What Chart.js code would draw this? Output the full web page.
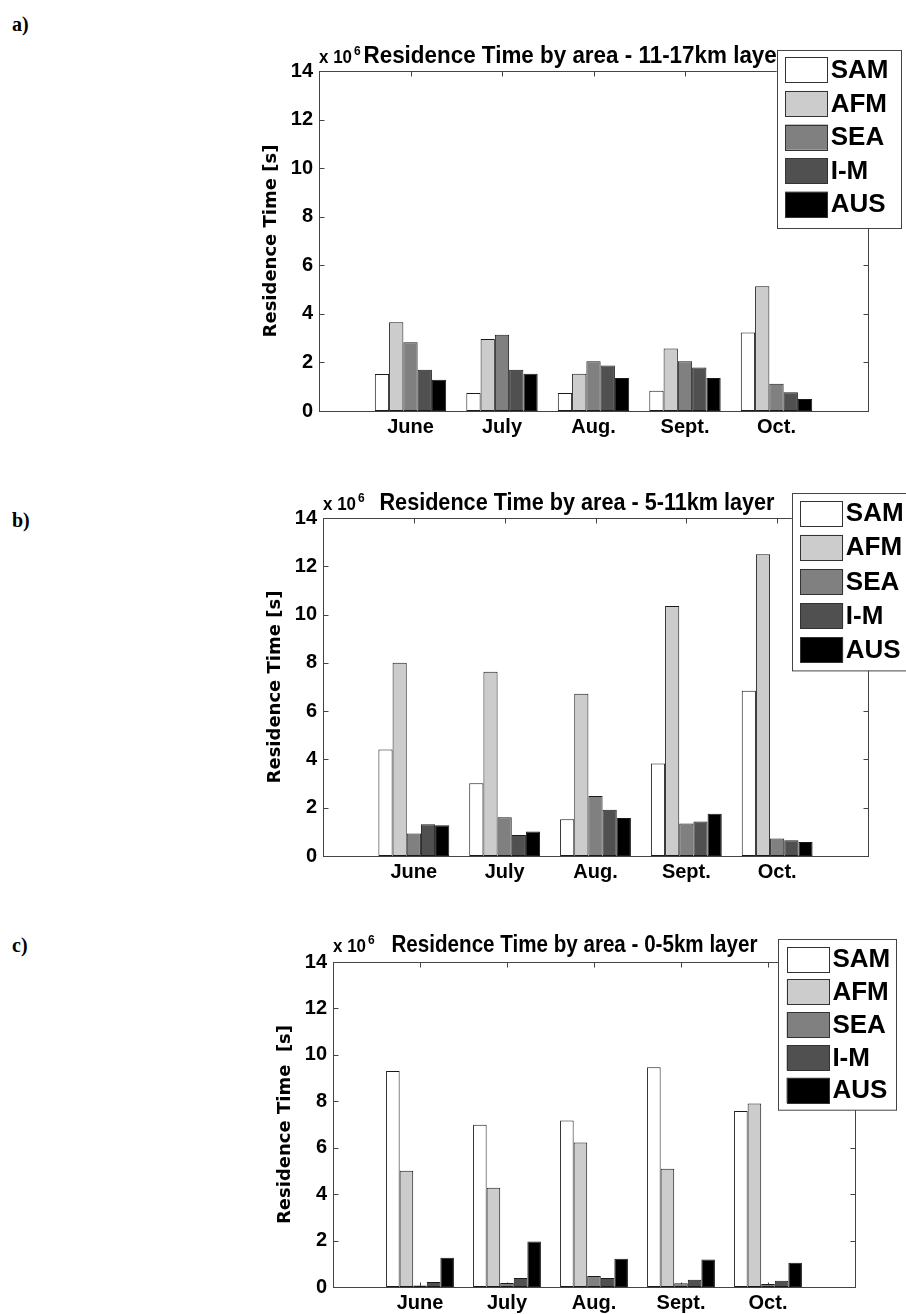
<!DOCTYPE html>
<html>
<head>
<meta charset="utf-8">
<script src="https://cdn.jsdelivr.net/npm/chart.js@4.4.1/dist/chart.umd.min.js"></script>
<style>
body { margin: 0; background: #fff; }
#page { position: relative; width: 906px; height: 1314px; overflow: hidden; background: #fff; }
canvas { position: absolute; left: 0; }
.tag { position: absolute; left: 12px; font: bold 20px "Liberation Serif", "Times New Roman", serif; line-height: 20px; }
</style>
</head>
<body>
<div id="page">
  <div class="tag" style="top:14px">a)</div>
  <div class="tag" style="top:510px">b)</div>
  <div class="tag" style="top:935px">c)</div>
  <canvas id="chartA" width="906" height="460" style="top:0px"></canvas>
  <canvas id="chartB" width="906" height="440" style="top:460px"></canvas>
  <canvas id="chartC" width="906" height="414" style="top:900px"></canvas>
</div>
<script>
// month categories and areas
const months = ['June', 'July', 'Aug.', 'Sept.', 'Oct.'];
const areas = ['SAM', 'AFM', 'SEA', 'I-M', 'AUS'];
const yTicks = [0, 2, 4, 6, 8, 10, 12, 14];

// 11-17 km layer (x 10^6 s)
const samHigh = [1.52, 0.74, 0.74, 0.83, 3.23];
const afmHigh = [3.65, 2.96, 1.53, 2.57, 5.14];
const seaHigh = [2.83, 3.14, 2.05, 2.05, 1.12];
const imHigh  = [1.70, 1.70, 1.87, 1.79, 0.77];
const ausHigh = [1.29, 1.53, 1.36, 1.36, 0.49];

// 5-11 km layer
const samMid = [4.41, 3.01, 1.52, 3.83, 6.84];
const afmMid = [8.00, 7.63, 6.72, 10.36, 12.50];
const seaMid = [0.93, 1.60, 2.49, 1.35, 0.73];
const imMid  = [1.31, 0.87, 1.92, 1.43, 0.65];
const ausMid = [1.27, 1.01, 1.57, 1.75, 0.58];

// 0-5 km layer
const samLow = [9.31, 6.99, 7.17, 9.47, 7.58];
const afmLow = [5.01, 4.28, 6.23, 5.09, 7.91];
const seaLow = [0.07, 0.17, 0.47, 0.16, 0.13];
const imLow  = [0.22, 0.39, 0.39, 0.31, 0.27];
const ausLow = [1.26, 1.96, 1.22, 1.18, 1.05];

const fills = ['#ffffff', '#cccccc', '#808080', '#505050', '#000000'];
const axisColor = '#444';
const sans = '"Liberation Sans", Arial, Helvetica, sans-serif';

// matlab style frame + inward ticks, title and legend
const framePlugin = {
    id: 'frame',
    beforeDatasetsDraw(chart) {
        const { ctx, chartArea: a, scales } = chart;
        ctx.save();
        ctx.strokeStyle = axisColor;
        ctx.lineWidth = 1;
        const l = Math.round(a.left) + 0.5, r = Math.round(a.right) + 0.5;
        const t = Math.round(a.top) + 0.5, b = Math.round(a.bottom) + 0.5;
        ctx.beginPath();
        yTicks.forEach(v => {
            const y = Math.round(scales.y.getPixelForValue(v)) + 0.5;
            ctx.moveTo(l, y); ctx.lineTo(l + 5, y);
            ctx.moveTo(r, y); ctx.lineTo(r - 5, y);
        });
        months.forEach((m, i) => {
            const x = Math.round(scales.x.getPixelForValue(i + 1)) + 0.5;
            ctx.moveTo(x, b); ctx.lineTo(x, b - 5);
            ctx.moveTo(x, t); ctx.lineTo(x, t + 5);
        });
        ctx.stroke();
        ctx.strokeRect(l, t, r - l, b - t);
        ctx.restore();
    },
    afterDatasetsDraw(chart, args, opts) {
        const { ctx } = chart;
        ctx.save();
        ctx.fillStyle = '#000';
        ctx.textBaseline = 'alphabetic';
        ctx.textAlign = 'left';
        ctx.font = 'bold 19px ' + sans;
        ctx.fillText('x 10', opts.x, opts.baseline, 33);
        ctx.font = 'bold 12px ' + sans;
        ctx.fillText('6', opts.x + 35, opts.baseline - 8);
        ctx.font = 'bold 23px ' + sans;
        ctx.fillText(opts.text, opts.x + opts.gap, opts.baseline, opts.width);
        ctx.restore();
    },
    afterDraw(chart, args, opts) {
        const { ctx } = chart;
        const lg = opts.legend;
        ctx.save();
        ctx.fillStyle = '#fff';
        ctx.fillRect(lg.x, lg.y, lg.w, lg.h);
        ctx.strokeStyle = axisColor;
        ctx.lineWidth = 1;
        ctx.strokeRect(Math.round(lg.x) + 0.5, Math.round(lg.y) + 0.5, lg.w, lg.h);
        ctx.font = 'bold 26px ' + sans;
        ctx.textBaseline = 'middle';
        chart.data.datasets.forEach((ds, i) => {
            const sy = lg.y + 7.3 + i * lg.pitch;
            ctx.fillStyle = ds.backgroundColor;
            ctx.fillRect(lg.x + 8.3, sy, 43, 25.3);
            ctx.strokeStyle = '#333';
            ctx.strokeRect(Math.round(lg.x + 8.3) + 0.5, Math.round(sy) + 0.5, 42, 25);
            ctx.fillStyle = '#000';
            ctx.fillText(ds.label, lg.x + 54, sy + 13.5, 60);
        });
        ctx.restore();
    }
};

function makePanel(id, canvasTop, canvasH, box, series, titleOpts, legend, yTitle) {
    const yW = 58, xH = 34;
    const datasets = areas.map((name, i) => ({
        label: name,
        data: [null, ...series[i], null],
        backgroundColor: fills[i],
        borderColor: '#1a1a1a',
        borderWidth: 1,
        borderSkipped: false,
        categoryPercentage: 0.78,
        barPercentage: 1.0
    }));
    const ctx = document.getElementById(id).getContext('2d');
    new Chart(ctx, {
        type: 'bar',
        data: { labels: ['', ...months, ''], datasets: datasets },
        options: {
            responsive: false,
            animation: false,
            devicePixelRatio: 1,
            layout: {
                padding: {
                    left: box.left - yW,
                    top: box.top - canvasTop,
                    right: 906 - box.right,
                    bottom: canvasTop + canvasH - box.bottom - xH
                }
            },
            plugins: {
                legend: { display: false },
                tooltip: { enabled: false },
                frame: {
                    x: box.left,
                    baseline: titleOpts.baseline - canvasTop,
                    gap: titleOpts.gap,
                    width: titleOpts.width,
                    text: titleOpts.text,
                    legend: { x: legend.x, y: legend.y - canvasTop, w: legend.w, h: legend.h, pitch: legend.pitch }
                }
            },
            scales: {
                x: {
                    type: 'category',
                    offset: false,
                    grid: { display: false, drawTicks: false },
                    border: { display: false },
                    ticks: {
                        color: '#000',
                        font: { family: sans, size: 20, weight: 'bold' },
                        padding: 4,
                        autoSkip: false,
                        maxRotation: 0
                    },
                    afterFit: s => { s.height = xH; }
                },
                y: {
                    min: 0,
                    max: 14,
                    grid: { display: false, drawTicks: false },
                    border: { display: false },
                    ticks: {
                        stepSize: 2,
                        autoSkip: false,
                        color: '#000',
                        font: { family: sans, size: 20, weight: 'bold' },
                        padding: 6
                    },
                    title: {
                        display: true,
                        text: yTitle,
                        color: '#000',
                        font: { family: '"DejaVu Sans", sans-serif', size: 18, weight: 'bold' },
                        padding: 0
                    },
                    afterFit: s => { s.width = yW; }
                }
            }
        },
        plugins: [framePlugin]
    });
}

makePanel('chartA', 0, 460,
    { left: 319, top: 71, right: 868, bottom: 411 },
    [samHigh, afmHigh, seaHigh, imHigh, ausHigh],
    { baseline: 63, gap: 44.5, width: 422, text: 'Residence Time by area - 11-17km layer' },
    { x: 776.7, y: 50, w: 124, h: 178, pitch: 33.6 },
    'Residence Time [s]');

makePanel('chartB', 460, 440,
    { left: 323, top: 518, right: 868, bottom: 856 },
    [samMid, afmMid, seaMid, imMid, ausMid],
    { baseline: 509.5, gap: 56.5, width: 395, text: 'Residence Time by area - 5-11km layer' },
    { x: 791.8, y: 493.3, w: 124, h: 177.4, pitch: 34.2 },
    'Residence Time [s]');

makePanel('chartC', 900, 414,
    { left: 333, top: 962, right: 855, bottom: 1287 },
    [samLow, afmLow, seaLow, imLow, ausLow],
    { baseline: 952, gap: 58.5, width: 366, text: 'Residence Time by area - 0-5km layer' },
    { x: 778.4, y: 939.3, w: 118, h: 170.7, pitch: 32.8 },
    'Residence Time  [s]');
</script>
</body>
</html>
